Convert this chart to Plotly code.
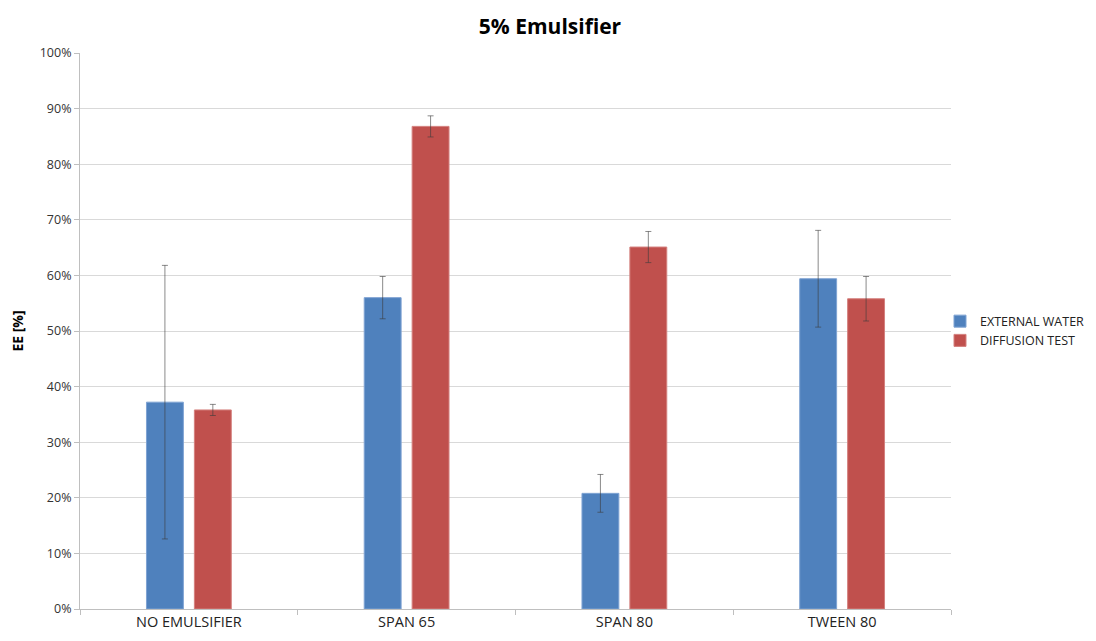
import plotly.graph_objects as go

categories = ["NO EMULSIFIER", "SPAN 65", "SPAN 80", "TWEEN 80"]
external_water = [37.2, 56.0, 20.8, 59.4]
external_water_err = [24.6, 3.8, 3.4, 8.7]
diffusion_test = [35.8, 86.8, 65.1, 55.8]
diffusion_test_err = [1.0, 1.9, 2.8, 4.0]
y_ticks = [0, 10, 20, 30, 40, 50, 60, 70, 80, 90, 100]
y_tick_labels = [f"{v}%" for v in y_ticks]

font_family = "Open Sans, Lato, sans-serif"
err_style = dict(type="data", visible=True, color="rgba(60,60,60,0.6)", thickness=1, width=3)

fig = go.Figure()
fig.add_trace(go.Bar(
    name="EXTERNAL WATER", x=categories, y=external_water,
    marker=dict(color="#4F81BD", line=dict(color="#7FA3D3", width=1)),
    error_y=dict(array=external_water_err, **err_style),
))
fig.add_trace(go.Bar(
    name="DIFFUSION TEST", x=categories, y=diffusion_test,
    marker=dict(color="#C0504D", line=dict(color="#D4807E", width=1)),
    error_y=dict(array=diffusion_test_err, **err_style),
))

W, H = 1088, 633
fig.update_layout(
    width=W, height=H,
    margin=dict(l=72, r=145, t=45, b=32, autoexpand=False),
    paper_bgcolor="white", plot_bgcolor="white",
    barmode="group", bargap=0.56, bargroupgap=0.23,
    title=dict(text="<b>5% Emulsifier</b>", x=542 / W, xref="container", xanchor="center",
               y=1 - 19 / H, yref="container", yanchor="middle",
               font=dict(family=font_family, size=21, color="black")),
    font=dict(family=font_family, size=12, color="#404040"),
    legend=dict(x=(932 - 72) / 871, xanchor="left", y=0.5, yanchor="middle",
                font=dict(size=12.5, color="#222222"), itemwidth=30,
                tracegroupgap=2, bgcolor="rgba(0,0,0,0)"),
    showlegend=True,
)
fig.update_xaxes(
    type="category", showgrid=False, showline=True, linecolor="#BFBFBF", linewidth=1,
    ticks="outside", tickson="boundaries", ticklen=5, tickcolor="#BFBFBF",
    tickfont=dict(size=14.5, color="#222222"),
)
fig.update_yaxes(
    range=[0, 100], tickvals=y_ticks, ticktext=y_tick_labels,
    showgrid=True, gridcolor="#D9D9D9", gridwidth=1,
    showline=True, linecolor="#BFBFBF", linewidth=1,
    ticks="outside", ticklen=5, tickcolor="#BFBFBF",
    tickfont=dict(size=12.5, color="#333333"), zeroline=False,
    title=dict(text="<b>EE [%]</b>", font=dict(size=14, color="black"), standoff=12),
)

fig.write_html("out.html")
